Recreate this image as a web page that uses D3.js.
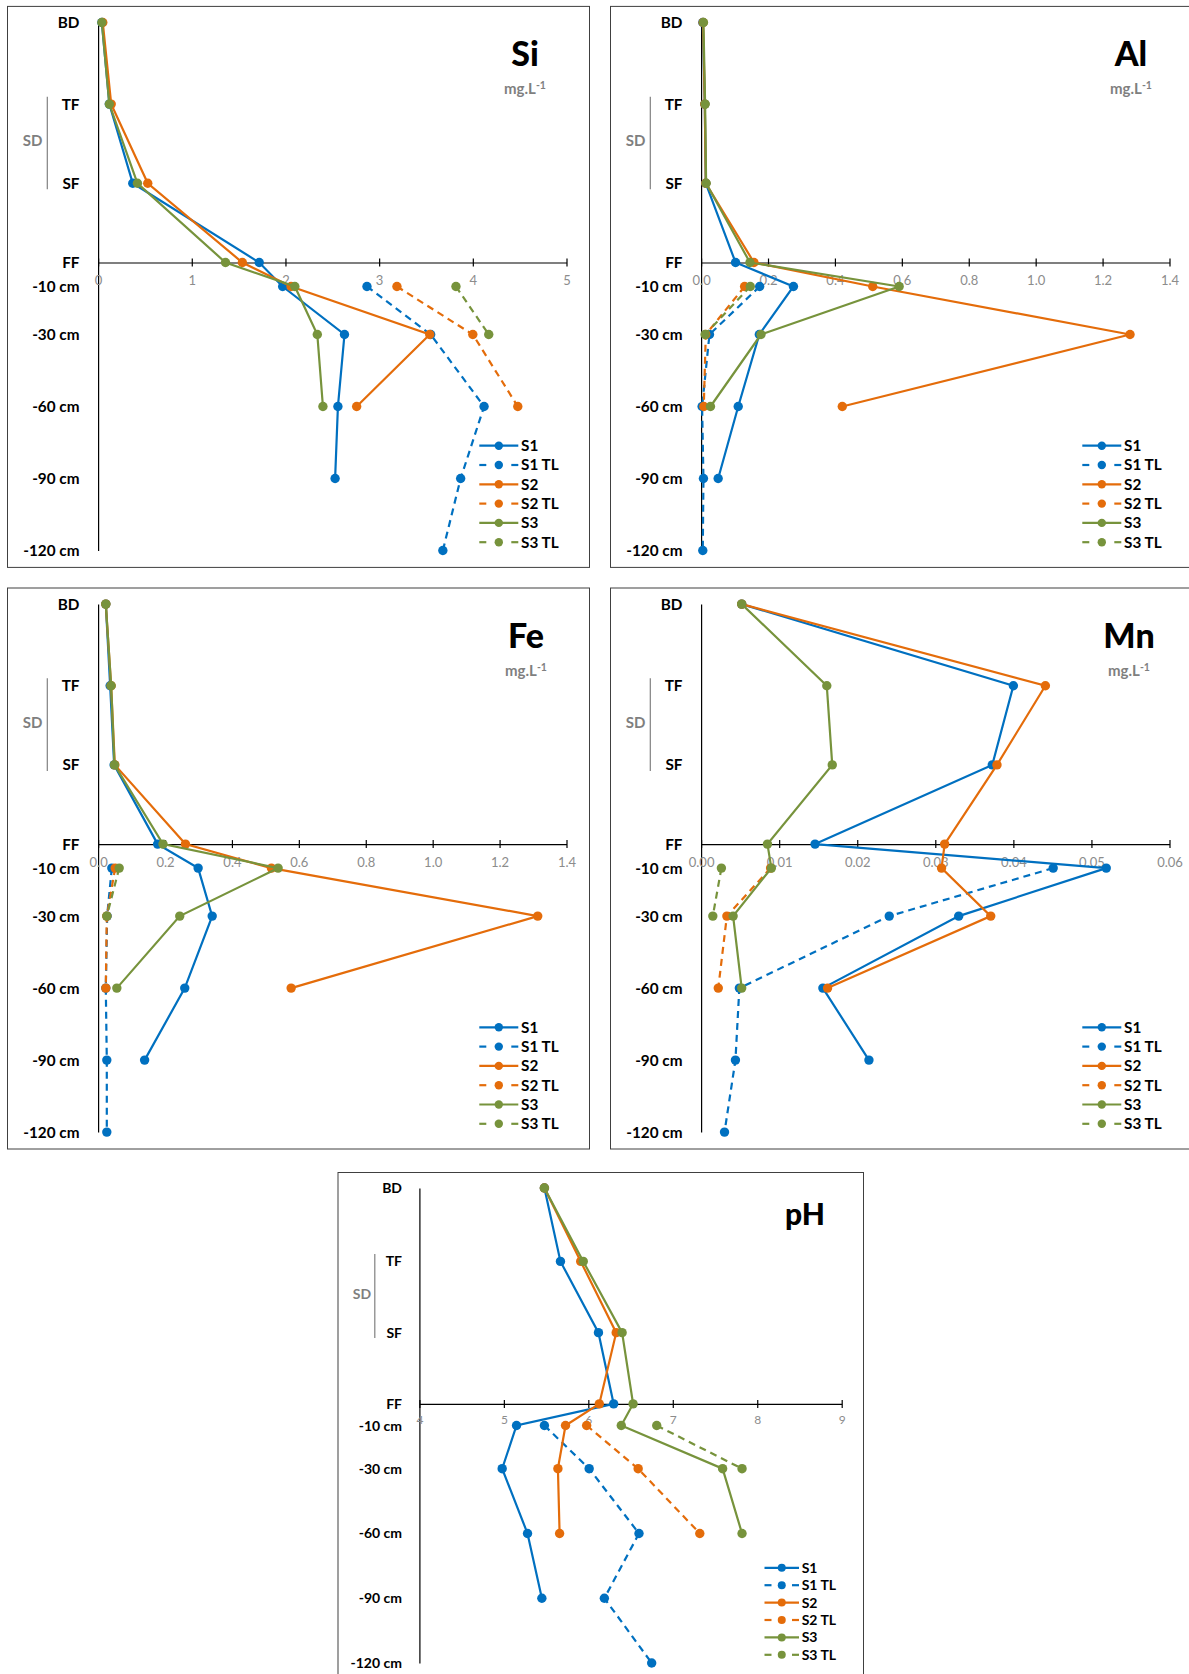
<!DOCTYPE html>
<html>
<head>
<meta charset="utf-8">
<script src="https://cdn.jsdelivr.net/npm/d3@7"></script>
<style>
  html, body { margin: 0; padding: 0; background: #fff; }
  svg { display: block; }
  text { font-family: Lato, "Open Sans", "Liberation Sans", sans-serif; }
</style>
</head>
<body>
<svg id="chart" width="1189" height="1674"></svg>
<script>
// ---------- DATA ----------
const levelLabels = ["BD", "TF", "SF", "FF", "-10 cm", "-30 cm", "-60 cm", "-90 cm", "-120 cm"];
const levelValues = [100, 66, 33, 0, -10, -30, -60, -90, -120];
const seriesNames = ["S1", "S1 TL", "S2", "S2 TL", "S3", "S3 TL"];

const siTicks = [0, 1, 2, 3, 4, 5];
const siS1   = [0.04, 0.12, 0.37, 1.72, 1.97, 2.63, 2.56, 2.53, null];
const siS1TL = [null, null, null, null, 2.87, 3.55, 4.12, 3.87, 3.68];
const siS2   = [0.05, 0.14, 0.53, 1.54, 2.06, 3.54, 2.76, null, null];
const siS2TL = [null, null, null, null, 3.19, 4.00, 4.48, null, null];
const siS3   = [0.04, 0.12, 0.42, 1.36, 2.10, 2.34, 2.40, null, null];
const siS3TL = [null, null, null, null, 3.82, 4.17, null, null, null];

const alTicks = [0, 0.2, 0.4, 0.6, 0.8, 1.0, 1.2, 1.4];
const alS1   = [0.005, 0.011, 0.014, 0.103, 0.276, 0.174, 0.111, 0.051, null];
const alS1TL = [null, null, null, null, 0.175, 0.025, 0.003, 0.007, 0.005];
const alS2   = [0.006, 0.011, 0.014, 0.158, 0.513, 1.282, 0.422, null, null];
const alS2TL = [null, null, null, null, 0.130, 0.014, 0.008, null, null];
const alS3   = [0.007, 0.012, 0.015, 0.146, 0.592, 0.179, 0.028, null, null];
const alS3TL = [null, null, null, null, 0.147, 0.012, null, null, null];

const feTicks = [0, 0.2, 0.4, 0.6, 0.8, 1.0, 1.2, 1.4];
const feS1   = [0.023, 0.036, 0.048, 0.178, 0.299, 0.341, 0.259, 0.139, null];
const feS1TL = [null, null, null, null, 0.041, 0.027, 0.023, 0.026, 0.026];
const feS2   = [0.023, 0.039, 0.050, 0.261, 0.518, 1.314, 0.577, null, null];
const feS2TL = [null, null, null, null, 0.051, 0.026, 0.023, null, null];
const feS3   = [0.023, 0.039, 0.049, 0.194, 0.538, 0.244, 0.056, null, null];
const feS3TL = [null, null, null, null, 0.063, 0.026, null, null, null];

const mnTicks = [0, 0.01, 0.02, 0.03, 0.04, 0.05, 0.06];
const mnS1   = [0.0052, 0.0400, 0.0373, 0.0146, 0.0519, 0.0330, 0.0156, 0.0215, null];
const mnS1TL = [null, null, null, null, 0.0451, 0.0241, 0.0049, 0.0044, 0.0030];
const mnS2   = [0.0052, 0.0441, 0.0379, 0.0312, 0.0308, 0.0371, 0.0162, null, null];
const mnS2TL = [null, null, null, null, 0.0089, 0.0033, 0.0022, null, null];
const mnS3   = [0.0052, 0.0161, 0.0168, 0.0085, 0.0090, 0.0041, 0.0052, null, null];
const mnS3TL = [null, null, null, null, 0.0026, 0.0015, null, null, null];

const phTicks = [4, 5, 6, 7, 8, 9];
const phS1   = [5.48, 5.67, 6.12, 6.30, 5.15, 4.98, 5.28, 5.45, null];
const phS1TL = [null, null, null, null, 5.48, 6.01, 6.60, 6.19, 6.75];
const phS2   = [5.48, 5.91, 6.33, 6.13, 5.73, 5.64, 5.66, null, null];
const phS2TL = [null, null, null, null, 5.98, 6.59, 7.32, null, null];
const phS3   = [5.48, 5.94, 6.40, 6.53, 6.39, 7.59, 7.82, null, null];
const phS3TL = [null, null, null, null, 6.81, 7.82, null, null, null];

// ---------- STYLE ----------
const colors = { S1: "#0070C0", S2: "#E46C0A", S3: "#77933C" };
const seriesColor = n => colors[n.split(" ")[0]];
const isDashed = n => n.endsWith("TL");

const stdLayout = {
  w: 582, h: 561, x0: 90.6, x1: 559, yTop: 16.1, yBot: 544.1,
  labelRight: 72, labelSize: 15.3, sdX: 25, sdY: 134.6, sdLineX: 39.8, sdLineY0: 90.3, sdLineY1: 182.9, sdSize: 15,
  titleX: 517.5, titleY: 59.6, titleSize: 34, unitY: 87.6, unitSize: 15,
  legX0: 471.8, legX1: 510.8, legText: 513.5, legY0: 439.3, legDy: 19.3, legSize: 15.3,
  tickOff: 18, tickSize: 13, r: 4.7, legR: 4.2
};
const phLayout = {
  w: 525.5, h: 530, x0: 81.4, x1: 503.7, yTop: 15.5, yBot: 490.5,
  labelRight: 64, labelSize: 14, sdX: 23.9, sdY: 121.2, sdLineX: 36.8, sdLineY0: 81.6, sdLineY1: 165.4, sdSize: 14,
  titleX: 467, titleY: 52.3, titleSize: 30, unitY: null, unitSize: 12,
  legX0: 426.5, legX1: 461, legText: 463.7, legY0: 395.3, legDy: 17.4, legSize: 14,
  tickOff: 15.4, tickSize: 12, r: 4.7, legR: 4.0
};

const panels = [
  { title: "Si", unit: true, left: 7.5, top: 6.4, domain: [0, 5], ticks: siTicks, fmt: d3.format("d"),
    series: [siS1, siS1TL, siS2, siS2TL, siS3, siS3TL], L: stdLayout, titleDx: 0 },
  { title: "Al", unit: true, left: 610.5, top: 6.4, domain: [0, 1.4], ticks: alTicks, fmt: d3.format(".1f"),
    series: [alS1, alS1TL, alS2, alS2TL, alS3, alS3TL], L: stdLayout, titleDx: 3 },
  { title: "Fe", unit: true, left: 7.5, top: 588, domain: [0, 1.4], ticks: feTicks, fmt: d3.format(".1f"),
    series: [feS1, feS1TL, feS2, feS2TL, feS3, feS3TL], L: stdLayout, titleDx: 1 },
  { title: "Mn", unit: true, left: 610.5, top: 588, domain: [0, 0.06], ticks: mnTicks, fmt: d3.format(".2f"),
    series: [mnS1, mnS1TL, mnS2, mnS2TL, mnS3, mnS3TL], L: stdLayout, titleDx: 1 },
  { title: "pH", unit: false, left: 338, top: 1172.5, domain: [4, 9], ticks: phTicks, fmt: d3.format("d"),
    series: [phS1, phS1TL, phS2, phS2TL, phS3, phS3TL], L: phLayout, titleDx: 0 }
];

// ---------- DRAW ----------
const svg = d3.select("#chart");
svg.append("rect").attr("width", 1189).attr("height", 1674).attr("fill", "#fff");

panels.forEach(p => {
  const L = p.L;
  const g = svg.append("g").attr("transform", `translate(${p.left},${p.top})`);

  g.append("rect").attr("x", 0).attr("y", 0).attr("width", L.w).attr("height", L.h)
    .attr("fill", "#fff").attr("stroke", "#404040").attr("stroke-width", 1);

  const x = d3.scaleLinear().domain(p.domain).range([L.x0, L.x1]);
  const y = d3.scaleLinear().domain([100, -120]).range([L.yTop, L.yBot]);

  // vertical axis line
  const yAxis = d3.axisLeft(y).tickValues([]).tickSizeOuter(0);
  const ya = g.append("g").attr("transform", `translate(${x(p.domain[0])},0)`).call(yAxis);
  ya.select(".domain").attr("stroke", "#000").attr("stroke-width", 1.2);

  // horizontal axis at FF (0)
  const xAxis = d3.axisBottom(x).tickValues(p.ticks).tickFormat(p.fmt).tickSizeInner(4).tickSizeOuter(0);
  const xa = g.append("g").attr("transform", `translate(0,${y(0)})`).call(xAxis);
  xa.select(".domain").attr("stroke", "#000").attr("stroke-width", 1.2);
  xa.selectAll(".tick line").attr("y1", -4).attr("y2", 4).attr("stroke", "#000").attr("stroke-width", 1.2);
  xa.selectAll(".tick text").attr("y", L.tickOff).attr("dy", "0.35em")
    .attr("fill", "#8c8c8c").style("font-size", L.tickSize + "px")
    .style("font-family", "Lato, 'Open Sans', sans-serif");

  // level labels
  g.selectAll("text.lvl").data(levelLabels).join("text").attr("class", "lvl")
    .attr("x", L.labelRight).attr("y", (d, i) => y(levelValues[i]))
    .attr("dy", "0.36em").attr("text-anchor", "end")
    .style("font-size", L.labelSize + "px").style("font-weight", 700).attr("fill", "#000")
    .text(d => d);

  // SD bracket
  g.append("line").attr("x1", L.sdLineX).attr("x2", L.sdLineX).attr("y1", L.sdLineY0).attr("y2", L.sdLineY1)
    .attr("stroke", "#808080").attr("stroke-width", 1.2);
  g.append("text").attr("x", L.sdX).attr("y", L.sdY).attr("dy", "0.36em").attr("text-anchor", "middle")
    .style("font-size", L.sdSize + "px").style("font-weight", 700).attr("fill", "#7f7f7f").text("SD");

  // series
  const line = d3.line().defined(d => d.v != null).x(d => x(d.v)).y(d => y(d.lv));
  p.series.forEach((vals, si) => {
    const name = seriesNames[si];
    const pts = vals.map((v, i) => ({ v, lv: levelValues[i] }));
    const col = seriesColor(name);
    g.append("path").datum(pts).attr("d", line).attr("fill", "none")
      .attr("stroke", col).attr("stroke-width", 2.2)
      .attr("stroke-dasharray", isDashed(name) ? "7,5" : null);
    g.append("g").selectAll("circle").data(pts.filter(d => d.v != null)).join("circle")
      .attr("cx", d => x(d.v)).attr("cy", d => y(d.lv)).attr("r", L.r).attr("fill", col);
  });

  // title
  g.append("text").attr("x", L.titleX + p.titleDx).attr("y", L.titleY).attr("text-anchor", "middle")
    .style("font-size", L.titleSize + "px").style("font-weight", 900).attr("fill", "#000").text(p.title);
  if (p.unit) {
    const t = g.append("text").attr("x", L.titleX + p.titleDx).attr("y", L.unitY).attr("text-anchor", "middle")
      .style("font-size", L.unitSize + "px").style("font-weight", 700).attr("fill", "#7f7f7f");
    t.append("tspan").text("mg.L");
    t.append("tspan").attr("dy", "-0.45em").style("font-size", (L.unitSize * 0.7) + "px").text("-1");
  }

  // legend
  const leg = g.append("g");
  seriesNames.forEach((name, i) => {
    const ly = L.legY0 + i * L.legDy;
    const col = seriesColor(name);
    const lg = leg.append("g");
    if (isDashed(name)) {
      lg.append("line").attr("x1", L.legX0).attr("x2", L.legX0 + 7).attr("y1", ly).attr("y2", ly)
        .attr("stroke", col).attr("stroke-width", 2.2);
      lg.append("line").attr("x1", L.legX1 - 7).attr("x2", L.legX1).attr("y1", ly).attr("y2", ly)
        .attr("stroke", col).attr("stroke-width", 2.2);
    } else {
      lg.append("line").attr("x1", L.legX0).attr("x2", L.legX1).attr("y1", ly).attr("y2", ly)
        .attr("stroke", col).attr("stroke-width", 2.2);
    }
    lg.append("circle").attr("cx", (L.legX0 + L.legX1) / 2).attr("cy", ly).attr("r", L.legR).attr("fill", col);
    lg.append("text").attr("x", L.legText).attr("y", ly).attr("dy", "0.36em")
      .style("font-size", L.legSize + "px").style("font-weight", 700).attr("fill", "#000").text(name);
  });
});
</script>
</body>
</html>
